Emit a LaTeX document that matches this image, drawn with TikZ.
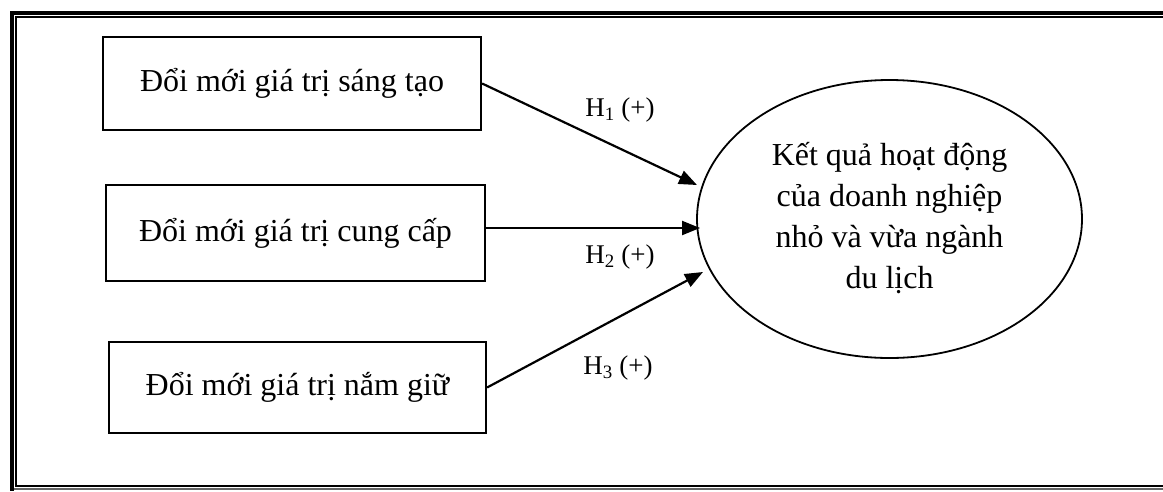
\documentclass[tikz,border=0pt]{standalone}
\usepackage{fontspec}
\setmainfont{Liberation Serif}
\usetikzlibrary{shapes.geometric,arrows.meta}
\begin{document}
\begin{tikzpicture}[x=1pt,y=-1pt,
  boxstyle/.style={draw,line width=2.2pt,inner sep=0pt,
    font=\fontsize{32}{38}\selectfont},
  ellstyle/.style={draw,ellipse,line width=1.8pt,inner sep=0pt,
    minimum width=385pt,minimum height=278pt,align=center,
    font=\fontsize{32}{41}\selectfont},
  arrowstyle/.style={line width=2.2pt,-{Triangle[length=18pt,width=14pt]}},
  lblstyle/.style={inner sep=0pt,font=\fontsize{27}{32}\selectfont},
  framethick/.style={line width=4.4pt},
  framethin/.style={line width=1.6pt}]
\useasboundingbox (0,0) rectangle (1163,491);
\fill[white] (0,0) rectangle (1163,491);
% frame
\draw[framethick] (1163,12.8) -- (11.7,12.8) -- (11.7,491);
\draw[framethin] (1163,16.7) -- (15.8,16.7) -- (15.8,485.7) -- (1163,485.7);
\draw[line width=2pt,black!60] (14,489) -- (1163,489);
% boxes
\node[boxstyle,minimum width=378pt,minimum height=93pt] (b1) at (292,83.5) {Đổi mới giá trị sáng tạo};
\node[boxstyle,minimum width=379pt,minimum height=96pt] (b2) at (295.5,233) {Đổi mới giá trị cung cấp};
\node[boxstyle,minimum width=377pt,minimum height=91pt] (b3) at (297.5,387.5) {Đổi mới giá trị nắm giữ};
% ellipse
\node[ellstyle] (e) at (889.5,219) {Kết quả hoạt động\\của doanh nghiệp\\nhỏ và vừa ngành\\du lịch\\[-33pt]\mbox{}};
% arrow ends
\coordinate (t1) at (697,185);
\coordinate (t2) at (700,228);
\coordinate (t3) at (703,272);
\draw[arrowstyle] (b1.east) -- (t1);
\draw[arrowstyle] (b2.east |- t2) -- (t2);
\draw[arrowstyle] (b3.east) -- (t3);
% labels
\node[lblstyle] (h1) at (620,110) {H\textsubscript{1} (+)};
\node[lblstyle] (h2) at (620,257) {H\textsubscript{2} (+)};
\node[lblstyle] (h3) at (618,368) {H\textsubscript{3} (+)};
\end{tikzpicture}
\end{document}
